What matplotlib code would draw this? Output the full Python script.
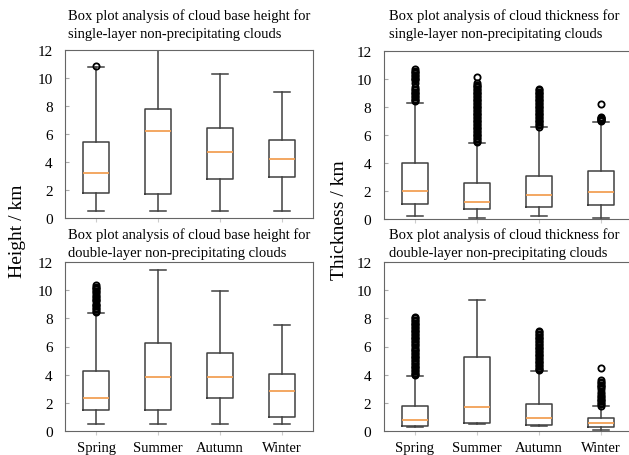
#!/usr/bin/env python3
# Box plots of cloud base height / thickness, single vs double layer clouds
import matplotlib
matplotlib.use("Agg")
import matplotlib.pyplot as plt

W, H = 629, 456
seasons = ["Spring", "Summer", "Autumn", "Winter"]

# five-number summaries: low whisker, Q1, median, Q3, high whisker
base_single = [(0.5, 1.8, 3.2, 5.4, 10.8), (0.5, 1.7, 6.2, 7.8, 12.4),
               (0.5, 2.8, 4.75, 6.45, 10.3), (0.5, 2.95, 4.2, 5.55, 9.0)]
base_single_out = [[10.85], [], [], []]

thick_single = [(0.2, 1.1, 2.0, 4.0, 8.3), (0.1, 0.7, 1.2, 2.6, 5.45),
                (0.2, 0.85, 1.7, 3.1, 6.55), (0.05, 1.0, 1.9, 3.4, 6.95)]
thick_single_out = [
    [8.4, 8.5, 8.6, 8.7, 8.8, 8.9, 9.0, 9.1, 9.2, 9.3, 9.4, 9.7, 9.9, 10.0,
     10.1, 10.2, 10.3, 10.4, 10.5, 10.6, 10.7],
    [5.5, 5.6, 5.7, 5.8, 5.9, 6.0, 6.1, 6.2, 6.3, 6.4, 6.5, 6.6, 6.7, 6.8, 6.9,
     7.0, 7.1, 7.2, 7.3, 7.4, 7.5, 7.6, 7.7, 7.8, 7.9, 8.0, 8.1, 8.2, 8.3, 8.4,
     8.5, 8.6, 8.7, 8.8, 8.9, 9.0, 9.1, 9.2, 9.3, 9.4, 9.5, 9.6, 9.7, 10.15],
    [6.6, 6.7, 6.8, 6.9, 7.0, 7.1, 7.2, 7.3, 7.4, 7.5, 7.6, 7.7, 7.8, 7.9, 8.0,
     8.1, 8.2, 8.3, 8.4, 8.5, 8.6, 8.7, 8.8, 8.9, 9.0, 9.1, 9.2, 9.3],
    [7.0, 7.05, 7.1, 7.15, 7.2, 7.25, 7.3, 8.2],
]

base_double = [(0.5, 1.5, 2.35, 4.25, 8.35), (0.5, 1.5, 3.86, 6.23, 11.45),
               (0.5, 2.37, 3.86, 5.52, 9.95), (0.5, 1.0, 2.87, 4.08, 7.54)]
base_double_out = [
    [8.45, 8.55, 8.65, 8.75, 8.85, 8.95, 9.05, 9.2, 9.3, 9.4, 9.5, 9.6, 9.7,
     9.85, 9.95, 10.05, 10.15, 10.25, 10.35],
    [], [], [],
]

thick_double = [(0.3, 0.38, 0.78, 1.75, 3.9), (0.52, 0.55, 1.68, 5.24, 9.27),
                (0.38, 0.4, 0.95, 1.92, 4.25), (0.07, 0.26, 0.55, 0.9, 1.75)]
thick_double_out = [
    [3.95, 4.05, 4.15, 4.25, 4.35, 4.45, 4.55, 4.65, 4.75, 4.85, 4.95, 5.05,
     5.15, 5.25, 5.35, 5.45, 5.55, 5.65, 5.75, 5.85, 6.0, 6.1, 6.2, 6.3, 6.4,
     6.5, 6.6, 6.7, 6.8, 6.9, 7.0, 7.1, 7.2, 7.3, 7.4, 7.5, 7.6, 7.7, 7.8,
     7.9, 8.0, 8.1],
    [],
    [4.3, 4.4, 4.5, 4.6, 4.7, 4.8, 4.9, 5.0, 5.1, 5.2, 5.3, 5.4, 5.5, 5.6,
     5.7, 5.8, 5.9, 6.0, 6.1, 6.2, 6.3, 6.4, 6.5, 6.6, 6.7, 6.8, 6.9, 7.0, 7.1],
    [1.8, 1.9, 2.0, 2.1, 2.2, 2.3, 2.4, 2.5, 2.65, 2.8, 2.95, 3.1, 3.2, 3.3,
     3.4, 3.5, 3.6, 4.5],
]

titles = [
    "Box plot analysis of cloud base height for\nsingle-layer non-precipitating clouds",
    "Box plot analysis of cloud thickness for\nsingle-layer non-precipitating clouds",
    "Box plot analysis of cloud base height for\ndouble-layer non-precipitating clouds",
    "Box plot analysis of cloud thickness for\ndouble-layer non-precipitating clouds",
]

SERIF = ["Liberation Serif", "DejaVu Serif"]
plt.rcParams["font.family"] = SERIF

def rect(l, t, r, b):
    return [l / W, 1 - b / H, (r - l) / W, (b - t) / H]

def fx(x):
    return x / W

def fy(y):
    return 1 - y / H

def draw(ax, summ, outs, show_labels):
    stats = []
    for s, (lo, q1, med, q3, hi), fl in zip(seasons, summ, outs):
        stats.append(dict(label=s, whislo=lo, q1=q1, med=med, q3=q3, whishi=hi, fliers=fl))
    ax.bxp(stats, widths=0.42, capwidths=0.26,
           boxprops=dict(color="#404040", lw=1.1),
           whiskerprops=dict(color="#404040", lw=1.1),
           capprops=dict(color="#404040", lw=1.1),
           medianprops=dict(color="#f2a055", lw=1.3),
           flierprops=dict(marker="o", markerfacecolor="none", markeredgecolor="black",
                           markersize=4.5, markeredgewidth=1.3))
    ax.set_xlim(0.5, 4.5)
    ax.set_ylim(0, 12)
    ax.set_yticks([0, 2, 4, 6, 8, 10, 12])
    for sp in ax.spines.values():
        sp.set_color("#666666")
    ax.tick_params(axis="y", direction="in", length=3, color="#aaaaaa", labelsize=11, pad=9)
    ax.tick_params(axis="x", direction="out", length=3, color="#cccccc", labelsize=10.5, pad=4)
    if not show_labels:
        ax.set_xticklabels([])

fig = plt.figure(figsize=(W / 100, H / 100), dpi=100)
ax1 = fig.add_axes(rect(65, 51, 313, 219))
ax2 = fig.add_axes(rect(384, 52, 632, 220))
ax3 = fig.add_axes(rect(65, 263, 313, 432))
ax4 = fig.add_axes(rect(384, 263, 632, 432))

draw(ax1, base_single, base_single_out, False)
draw(ax2, thick_single, thick_single_out, False)
draw(ax3, base_double, base_double_out, True)
draw(ax4, thick_double, thick_double_out, True)

tkw = dict(ha="left", va="center", fontsize=10.5, linespacing=1.45)
fig.text(fx(68), fy(25), titles[0], **tkw)
fig.text(fx(389), fy(25), titles[1], **tkw)
fig.text(fx(68), fy(244), titles[2], **tkw)
fig.text(fx(389), fy(244), titles[3], **tkw)

fig.text(fx(18), fy(231), "Height / km", rotation=90, ha="center", va="center", fontsize=14)
fig.text(fx(339), fy(220), "Thickness / km", rotation=90, ha="center", va="center", fontsize=14)

fig.savefig("out.png", dpi=100)
